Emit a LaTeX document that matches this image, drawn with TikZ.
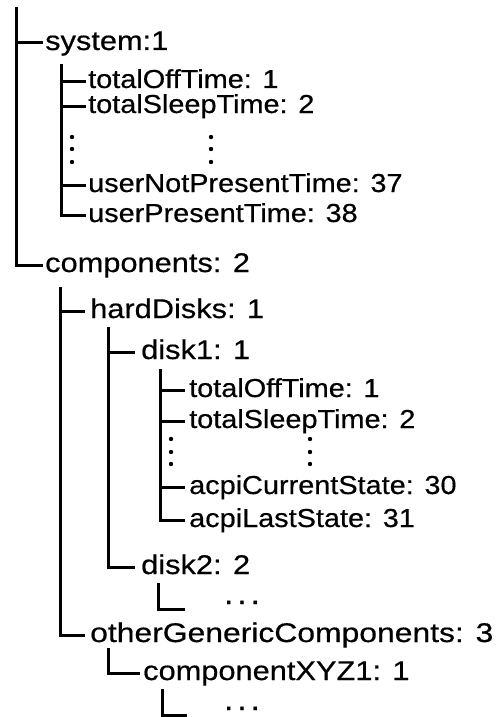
\documentclass[tikz,border=0pt]{standalone}
\usepackage{fontspec}
\setmainfont{Liberation Sans}
\newfontfamily\bigf[FakeStretch=1.14,FakeBold=0.5]{Liberation Sans}
\newfontfamily\bigwf[FakeStretch=1.18,FakeBold=0.5]{Liberation Sans}
\newfontfamily\leaff[FakeStretch=1.11,FakeBold=0.5]{Liberation Sans}
\begin{document}
\begin{tikzpicture}[x=1pt,y=-1pt,
  branch/.style={draw=black, line width=3pt, line join=miter},
  item/.style={anchor=west, inner ysep=0pt, inner xsep=2pt, text height=14pt, text depth=0pt},
  big/.style={item, font=\bigf\fontsize{27}{30}\selectfont},
  leaf/.style={item, font=\leaff\fontsize{26}{30}\selectfont},
  vdot/.style={circle, fill=black, inner sep=0pt, minimum size=4.4pt},
  hdots/.style={anchor=base west, inner sep=0pt, font=\leaff\fontsize{30}{30}\selectfont}]
\useasboundingbox (0,0) rectangle (496,717);
% root
\coordinate (rootTop) at (16,7);
\node[big] (system) at (43,43) {system:1};
\node[big] (components) at (43,265) {components: 2};
\draw[branch] (rootTop) |- (components.west);
\draw[branch] (rootTop |- system.west) -- (system.west);
% system children
\coordinate (sysTop) at (61,64);
\node[leaf] (s1) at (86,81) {totalOffTime: 1};
\node[leaf] (s2) at (86,106) {totalSleepTime: 2};
\node[leaf] (s3) at (86,185) {userNotPresentTime: 37};
\node[leaf] (s4) at (86,215) {userPresentTime: 38};
\draw[branch] (sysTop) |- (s4.west);
\foreach \n in {s1,s2,s3} \draw[branch] (sysTop |- \n.west) -- (\n.west);
\foreach \y [count=\i] in {137,149,162} {
  \node[vdot] (sda\i) at (72,\y) {};
  \node[vdot] (sdb\i) at (211,\y) {};
}
% components children
\coordinate (compTop) at (60,287);
\node[big, inner xsep=5pt] (hard) at (85,311) {hardDisks: 1};
\node[big, inner xsep=5pt, font=\bigwf\fontsize{27}{30}\selectfont] (other) at (85,635) {otherGenericComponents: 3};
\draw[branch] (compTop) |- (other.west);
\draw[branch] (compTop |- hard.west) -- (hard.west);
% hardDisks children
\coordinate (hardTop) at (108,327);
\node[big, inner xsep=6pt] (disk1) at (135,352) {disk1: 1};
\node[big, inner xsep=6pt] (disk2) at (135,567) {disk2: 2};
\draw[branch] (hardTop) |- (disk2.west);
\draw[branch] (hardTop |- disk1.west) -- (disk1.west);
% disk1 children
\coordinate (d1Top) at (160,369);
\node[leaf, inner xsep=4pt] (d1) at (185,390) {totalOffTime: 1};
\node[leaf, inner xsep=4pt] (d2) at (185,421) {totalSleepTime: 2};
\node[leaf, inner xsep=4pt] (d3) at (185,487) {acpiCurrentState: 30};
\node[leaf, inner xsep=4pt] (d4) at (185,520) {acpiLastState: 31};
\draw[branch] (d1Top) |- (d4.west);
\foreach \n in {d1,d2,d3} \draw[branch] (d1Top |- \n.west) -- (\n.west);
\foreach \y [count=\i] in {439,452,464} {
  \node[vdot] (dda\i) at (171,\y) {};
  \node[vdot] (ddb\i) at (310,\y) {};
}
% disk2 child
\coordinate (d2Top) at (158,583);
\coordinate (d2End) at (185,609);
\draw[branch] (d2Top) |- (d2End);
\node[hdots] (d2dots) at (224,604) {.\hspace{4pt}.\hspace{4pt}.};
% otherGenericComponents child
\coordinate (oTop) at (108,648);
\node[big, inner xsep=3pt] (xyz) at (140,673) {componentXYZ1: 1};
\draw[branch] (oTop) |- (xyz.west);
% componentXYZ1 child
\coordinate (xTop) at (162,689);
\coordinate (xEnd) at (187,715);
\draw[branch] (xTop) |- (xEnd);
\node[hdots] (xdots) at (224,710) {.\hspace{4pt}.\hspace{4pt}.};
\end{tikzpicture}
\end{document}
